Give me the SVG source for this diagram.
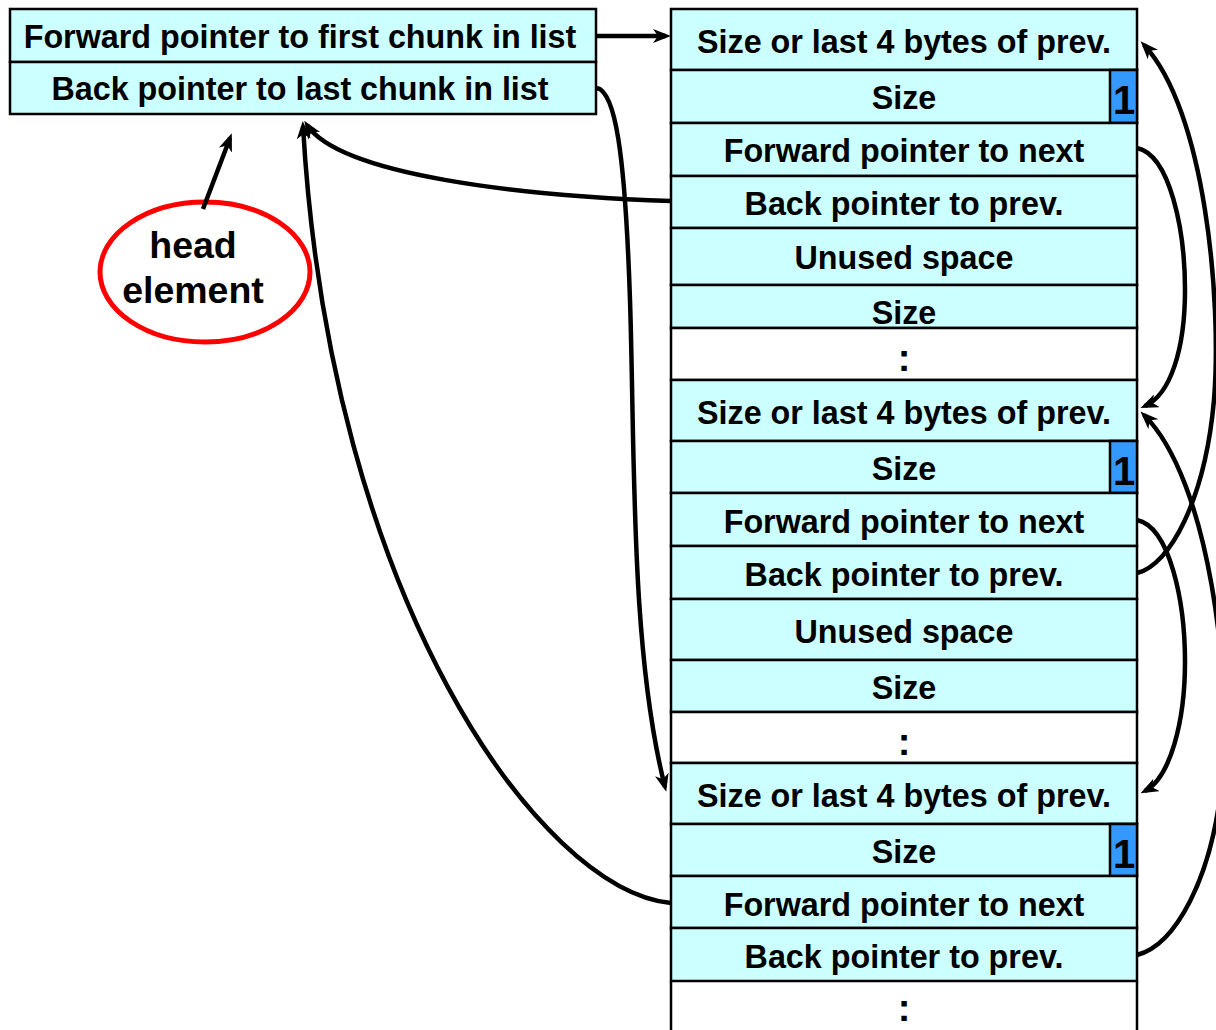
<svg xmlns="http://www.w3.org/2000/svg" width="1216" height="1030" viewBox="0 0 1216 1030">
<style>
.cell{fill:#CCFFFF;stroke:#000;stroke-width:2.5}
.blank{fill:#FFFFFF;stroke:#000;stroke-width:2.5}
.bit{fill:#3399FF;stroke:#000;stroke-width:2.5}
.t{font-family:"Liberation Sans",Arial,sans-serif;font-weight:bold;font-size:32.3px;fill:#000;text-anchor:middle}
.one{font-family:"Liberation Sans",Arial,sans-serif;font-weight:bold;font-size:40px;fill:#000;text-anchor:middle}
.dots{font-family:"Liberation Sans",Arial,sans-serif;font-weight:bold;font-size:38px;fill:#000;text-anchor:middle}
.lbl{font-family:"Liberation Sans",Arial,sans-serif;font-weight:bold;font-size:37.5px;fill:#000;text-anchor:middle}
.c{fill:none;stroke:#000;stroke-width:4.5}
</style>
<defs>
<marker id="ah" viewBox="0 0 18 14" refX="13" refY="7" markerWidth="18" markerHeight="14" markerUnits="userSpaceOnUse" orient="auto">
<path d="M0,0 L18,7 L0,14 L5,7 z" fill="#000"/>
</marker>
</defs>
<rect width="1216" height="1030" fill="#FFFFFF"/>

<g id="head">
<rect class="cell" x="10" y="9" width="586" height="53"/>
<rect class="cell" x="10" y="62" width="586" height="52"/>
<text class="t" x="300" y="48">Forward pointer to first chunk in list</text>
<text class="t" x="300" y="100">Back pointer to last chunk in list</text>
</g>

<g id="head-element">
<ellipse cx="205" cy="272" rx="105" ry="70" fill="none" stroke="#FF0000" stroke-width="5"/>
<text class="lbl" x="193" y="258">head</text>
<text class="lbl" x="193" y="303">element</text>
</g>

<g id="chunk1">
<rect class="cell" x="671" y="9" width="466" height="61"/>
<rect class="cell" x="671" y="70" width="466" height="53"/>
<rect class="bit" x="1110" y="70" width="27" height="53"/>
<rect class="cell" x="671" y="123" width="466" height="53"/>
<rect class="cell" x="671" y="176" width="466" height="52"/>
<rect class="cell" x="671" y="228" width="466" height="57"/>
<rect class="cell" x="671" y="285" width="466" height="43"/>
<rect class="blank" x="671" y="328" width="466" height="52"/>
<text class="t" x="904" y="53">Size or last 4 bytes of prev.</text>
<text class="t" x="904" y="109">Size</text>
<text class="one" x="1124" y="114">1</text>
<text class="t" x="904" y="162">Forward pointer to next</text>
<text class="t" x="904" y="215">Back pointer to prev.</text>
<text class="t" x="904" y="269">Unused space</text>
<text class="t" x="904" y="324">Size</text>
<text class="dots" x="904" y="371">:</text>
</g>

<g id="chunk2">
<rect class="cell" x="671" y="380" width="466" height="61"/>
<rect class="cell" x="671" y="441" width="466" height="52"/>
<rect class="bit" x="1110" y="441" width="27" height="52"/>
<rect class="cell" x="671" y="493" width="466" height="53"/>
<rect class="cell" x="671" y="546" width="466" height="53"/>
<rect class="cell" x="671" y="599" width="466" height="61"/>
<rect class="cell" x="671" y="660" width="466" height="52"/>
<rect class="blank" x="671" y="712" width="466" height="51"/>
<text class="t" x="904" y="424">Size or last 4 bytes of prev.</text>
<text class="t" x="904" y="480">Size</text>
<text class="one" x="1124" y="485">1</text>
<text class="t" x="904" y="533">Forward pointer to next</text>
<text class="t" x="904" y="586">Back pointer to prev.</text>
<text class="t" x="904" y="643">Unused space</text>
<text class="t" x="904" y="699">Size</text>
<text class="dots" x="904" y="755">:</text>
</g>

<g id="chunk3">
<rect class="cell" x="671" y="763" width="466" height="61"/>
<rect class="cell" x="671" y="824" width="466" height="52"/>
<rect class="bit" x="1110" y="824" width="27" height="52"/>
<rect class="cell" x="671" y="876" width="466" height="52"/>
<rect class="cell" x="671" y="928" width="466" height="53"/>
<path d="M671,981 V1032 M1137,981 V1032" stroke="#000" stroke-width="2.5"/>
<text class="t" x="904" y="807">Size or last 4 bytes of prev.</text>
<text class="t" x="904" y="863">Size</text>
<text class="one" x="1124" y="868">1</text>
<text class="t" x="904" y="916">Forward pointer to next</text>
<text class="t" x="904" y="968">Back pointer to prev.</text>
<text class="dots" x="904" y="1021">:</text>
</g>

<g id="connectors">
<path class="c" d="M596,36 L666,36" marker-end="url(#ah)"/>
<path class="c" d="M203,209 L230,138" stroke-width="5" marker-end="url(#ah)"/>
<path class="c" d="M597,88 C615,92 625,150 630,300 C635,450 630,650 665,787" stroke-width="5" marker-end="url(#ah)"/>
<path class="c" d="M671,201 C520,196 340,175 307,125" stroke-width="3.5" marker-end="url(#ah)"/>
<path class="c" d="M671,903 C540,890 330,600 303,126" marker-end="url(#ah)"/>
<path class="c" d="M1137,148 C1170,155 1185,230 1185,290 C1185,350 1170,395 1145,406" marker-end="url(#ah)"/>
<path class="c" d="M1137,520 C1170,527 1185,602 1185,662 C1185,722 1170,778 1145,791" marker-end="url(#ah)"/>
<path class="c" d="M1137,573 C1170,565 1205,500 1214,400 C1222,300 1205,110 1144,45" marker-end="url(#ah)"/>
<path class="c" d="M1137,955 C1175,945 1212,880 1222,780 C1232,680 1210,480 1144,415" marker-end="url(#ah)"/>
</g>
</svg>
